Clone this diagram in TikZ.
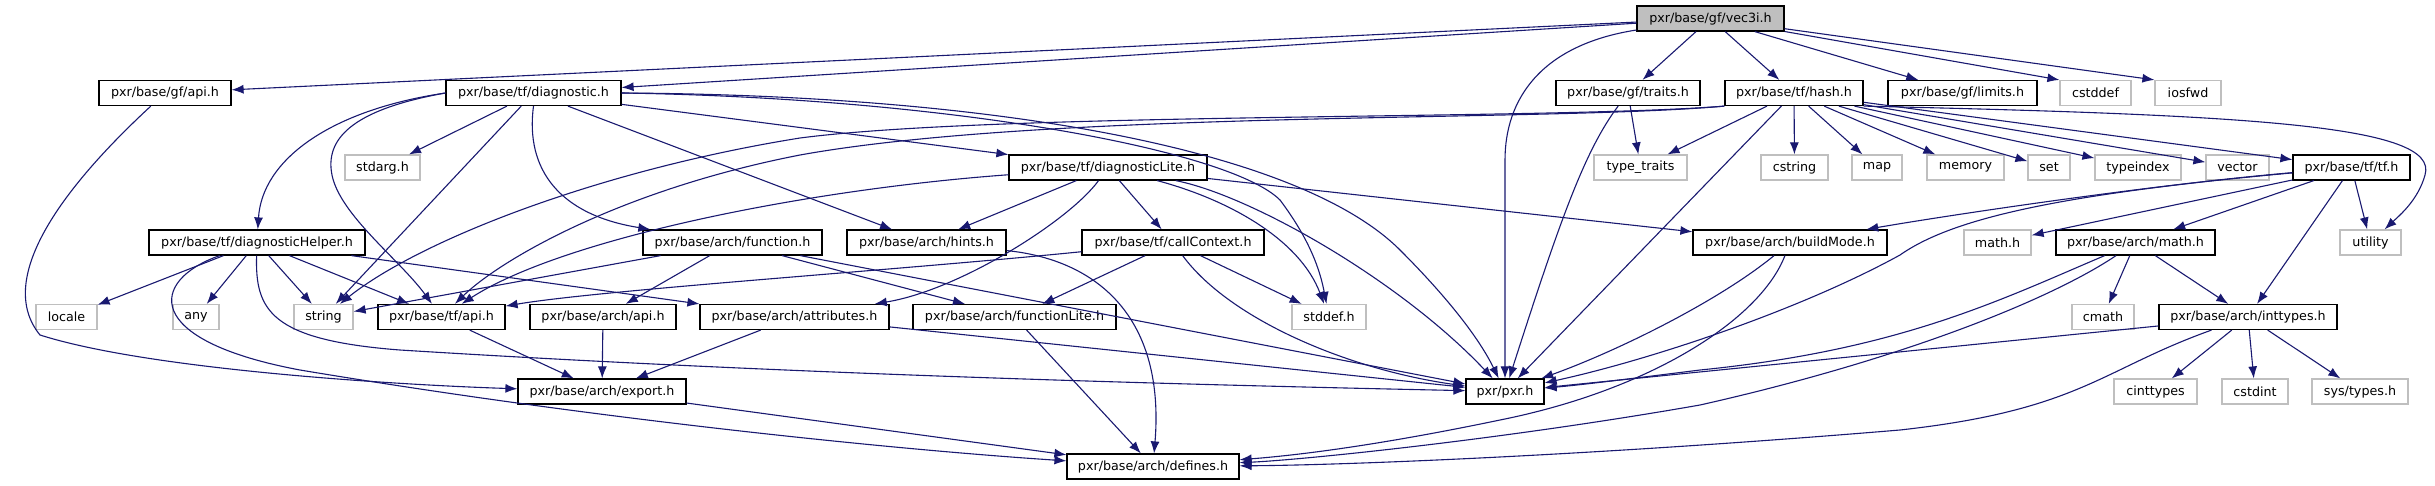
\documentclass[tikz,border=0pt]{standalone}
\usepackage{fontspec}
\setmainfont{DejaVu Sans}
\usetikzlibrary{arrows.meta}
\definecolor{edgeblue}{HTML}{191970}
\definecolor{sysgrey}{HTML}{BFBFBF}
\tikzset{
	hdr/.style={draw=black, fill=white, line width=1.2pt, minimum height=25pt,
		inner sep=0pt, font=\fontsize{12.7}{14}\selectfont},
	sys/.style={hdr, draw=sysgrey},
	main/.style={hdr, fill=sysgrey},
	inc/.style={->, edgeblue, line width=1.1pt}
}
\begin{document}
\begin{tikzpicture}[x=1pt, y=-1pt, >={Latex[length=12pt, width=9pt]}]
			\useasboundingbox (0,0) rectangle (2435,485);
			% row 1 and 2
			\node[main, minimum width=147pt] (vec) at (1710.5,18.5) {pxr/base/gf/vec3i.h};
			\node[hdr, minimum width=132pt] (gfapi) at (165,93) {pxr/base/gf/api.h};
			\node[hdr, minimum width=175pt] (diag) at (533.5,93) {pxr/base/tf/diagnostic.h};
			\node[hdr, minimum width=144pt] (traits) at (1628,93) {pxr/base/gf/traits.h};
			\node[hdr, minimum width=138pt] (hash) at (1794,93) {pxr/base/tf/hash.h};
			\node[hdr, minimum width=149pt] (limits) at (1962.5,93) {pxr/base/gf/limits.h};
			\node[sys, minimum width=71pt] (cstddef) at (2095.5,93) {cstddef};
			\node[sys, minimum width=66pt] (iosfwd) at (2188,93) {iosfwd};
			% row 3
			\node[sys, minimum width=75pt] (stdarg) at (382.5,167.5) {stdarg.h};
			\node[hdr, minimum width=198pt] (diaglite) at (1108,167.5) {pxr/base/tf/diagnosticLite.h};
			\node[sys, minimum width=93pt] (typetraits) at (1640.5,167.5) {type\_traits};
			\node[sys, minimum width=67pt] (cstring) at (1794.5,167.5) {cstring};
			\node[sys, minimum width=50pt] (map) at (1877,167.5) {map};
			\node[sys, minimum width=77pt] (memory) at (1965.5,167.5) {memory};
			\node[sys, minimum width=42pt] (set) at (2049,167.5) {set};
			\node[sys, minimum width=86pt] (typeindex) at (2138,167.5) {typeindex};
			\node[sys, minimum width=63pt] (vector) at (2237.5,167.5) {vector};
			\node[hdr, minimum width=117pt] (tftf) at (2351.5,167.5) {pxr/base/tf/tf.h};
			% row 4
			\node[hdr, minimum width=216pt] (diaghelper) at (257,242.5) {pxr/base/tf/diagnosticHelper.h};
			\node[hdr, minimum width=179pt] (function) at (732.5,242.5) {pxr/base/arch/function.h};
			\node[hdr, minimum width=159pt] (hints) at (926.5,242.5) {pxr/base/arch/hints.h};
			\node[hdr, minimum width=182pt] (callctx) at (1173,242.5) {pxr/base/tf/callContext.h};
			\node[hdr, minimum width=194pt] (buildmode) at (1790,242.5) {pxr/base/arch/buildMode.h};
			\node[sys, minimum width=67pt] (mathh) at (1997.5,242.5) {math.h};
			\node[hdr, minimum width=159pt] (archmath) at (2135.5,242.5) {pxr/base/arch/math.h};
			\node[sys, minimum width=61pt] (utility) at (2370.5,242.5) {utility};
			% row 5
			\node[sys, minimum width=61pt] (locale) at (66.5,317) {locale};
			\node[sys, minimum width=46pt] (any) at (196,317) {any};
			\node[sys, minimum width=59pt] (string) at (323.5,317) {string};
			\node[hdr, minimum width=127pt] (tfapi) at (441.5,317) {pxr/base/tf/api.h};
			\node[hdr, minimum width=146pt] (archapi) at (603,317) {pxr/base/arch/api.h};
			\node[hdr, minimum width=189pt] (attributes) at (794.5,317) {pxr/base/arch/attributes.h};
			\node[hdr, minimum width=203pt] (functionlite) at (1014.5,317) {pxr/base/arch/functionLite.h};
			\node[sys, minimum width=74pt] (stddef) at (1329,317) {stddef.h};
			\node[sys, minimum width=62pt] (cmath) at (2103,317) {cmath};
			\node[hdr, minimum width=178pt] (inttypes) at (2248,317) {pxr/base/arch/inttypes.h};
			% row 6 and 7
			\node[hdr, minimum width=168pt] (export) at (602,391.5) {pxr/base/arch/export.h};
			\node[hdr, minimum width=78pt] (pxr) at (1505,391.5) {pxr/pxr.h};
			\node[sys, minimum width=83pt] (cinttypes) at (2155.5,391.5) {cinttypes};
			\node[sys, minimum width=66pt] (cstdint) at (2255,391.5) {cstdint};
			\node[sys, minimum width=96pt] (systypes) at (2360,391.5) {sys/types.h};
			\node[hdr, minimum width=172pt] (defines) at (1153,466.5) {pxr/base/arch/defines.h};
			% straight includes
			\foreach \a/\b in {vec/gfapi, vec/diag, vec/traits, vec/hash, vec/limits, vec/cstddef.north west,
				vec/iosfwd.north west, diag/stdarg, diag/string, diag/hints, diag/diaglite, traits/typetraits,
				hash/typetraits, hash/pxr, hash/cstring, hash/map, hash/memory, hash/set, hash/typeindex,
				hash/vector, hash/tftf, diaglite/hints, diaglite/callctx, diaglite/buildmode,
				diaghelper/locale, diaghelper/any, diaghelper/string, diaghelper/tfapi, diaghelper/attributes,
				function/string, function/archapi, function/functionlite, function/pxr,
				callctx/functionlite, callctx/stddef, functionlite/defines, attributes/export, attributes/pxr,
				tfapi/export, archapi/export, export/defines, tftf/mathh, tftf/archmath, tftf/inttypes,
				tftf/utility, archmath/cmath, archmath/inttypes, inttypes/pxr, inttypes/cinttypes,
				inttypes/cstdint, inttypes/systypes}
				{
					\draw[inc] (\a) -- (\b);
				}
			% curved includes
			\draw[inc] (vec) .. controls (1540,45) and (1505,100) .. (1505,160) -- (pxr);
			\draw[inc] (gfapi) .. controls (60,190) and (-5,280) .. (40,335) .. controls (150,370) and (400,385) .. (export);
			\draw[inc] (diag.west) .. controls (330,110) and (262,160) .. (diaghelper);
			\draw[inc] (diag.west) .. controls (350,110) and (325,140) .. (332,175) .. controls (340,215) and (400,260) .. (tfapi);
			\draw[inc] (diag.south) .. controls (525,170) and (560,215) .. (function);
			\draw[inc] (diag.east) .. controls (950,98) and (1230,150) .. (1280,200) .. controls (1310,240) and (1320,270) .. (stddef);
			\draw[inc] (diag.east) .. controls (1000,95) and (1300,150) .. (1400,250) .. controls (1450,300) and (1480,340) .. (pxr);
			\draw[inc] (traits) .. controls (1585,150) and (1560,220) .. (pxr);
			\draw[inc] (hash.south west) .. controls (1550,120) and (1000,112) .. (800,138) .. controls (600,170) and (420,240) .. (string);
			\draw[inc] (hash.south west) .. controls (1550,122) and (1050,110) .. (800,155) .. controls (620,190) and (500,260) .. (tfapi);
			\draw[inc] (hash.south east) .. controls (2250,115) and (2440,125) .. (2425,175) .. controls (2418,200) and (2400,215) .. (utility);
			\draw[inc] (diaglite) .. controls (800,190) and (560,240) .. (tfapi);
			\draw[inc] (diaglite) .. controls (1070,220) and (960,290) .. (attributes);
			\draw[inc] (diaglite) .. controls (1230,200) and (1300,240) .. (stddef);
			\draw[inc] (diaglite) .. controls (1250,195) and (1400,280) .. (pxr);
			\draw[inc] (diaghelper) .. controls (255,310) and (270,340) .. (400,350) .. controls (800,375) and (1200,385) .. (pxr);
			\draw[inc] (diaghelper) .. controls (150,280) and (140,340) .. (300,370) .. controls (600,420) and (900,450) .. (defines);
			\draw[inc] (hints) .. controls (1100,260) and (1165,320) .. (defines);
			\draw[inc] (callctx) .. controls (900,270) and (600,290) .. (tfapi);
			\draw[inc] (callctx) .. controls (1230,320) and (1350,370) .. (pxr);
			\draw[inc] (tftf) .. controls (2150,185) and (1950,215) .. (buildmode);
			\draw[inc] (tftf) .. controls (2050,195) and (1950,220) .. (1900,255) .. controls (1800,310) and (1650,360) .. (pxr);
			\draw[inc] (buildmode) .. controls (1720,300) and (1620,350) .. (pxr);
			\draw[inc] (buildmode) .. controls (1760,320) and (1650,390) .. (1500,420) .. controls (1380,445) and (1300,455) .. (defines);
			\draw[inc] (archmath) .. controls (2000,300) and (1900,350) .. (1700,370) .. controls (1620,380) and (1580,385) .. (pxr);
			\draw[inc] (archmath) .. controls (2050,300) and (1900,360) .. (1700,405) .. controls (1500,440) and (1300,460) .. (defines);
			\draw[inc] (inttypes) .. controls (2100,370) and (2080,410) .. (1900,430) .. controls (1600,455) and (1350,465) .. (defines);
		\end{tikzpicture}
\end{document}
